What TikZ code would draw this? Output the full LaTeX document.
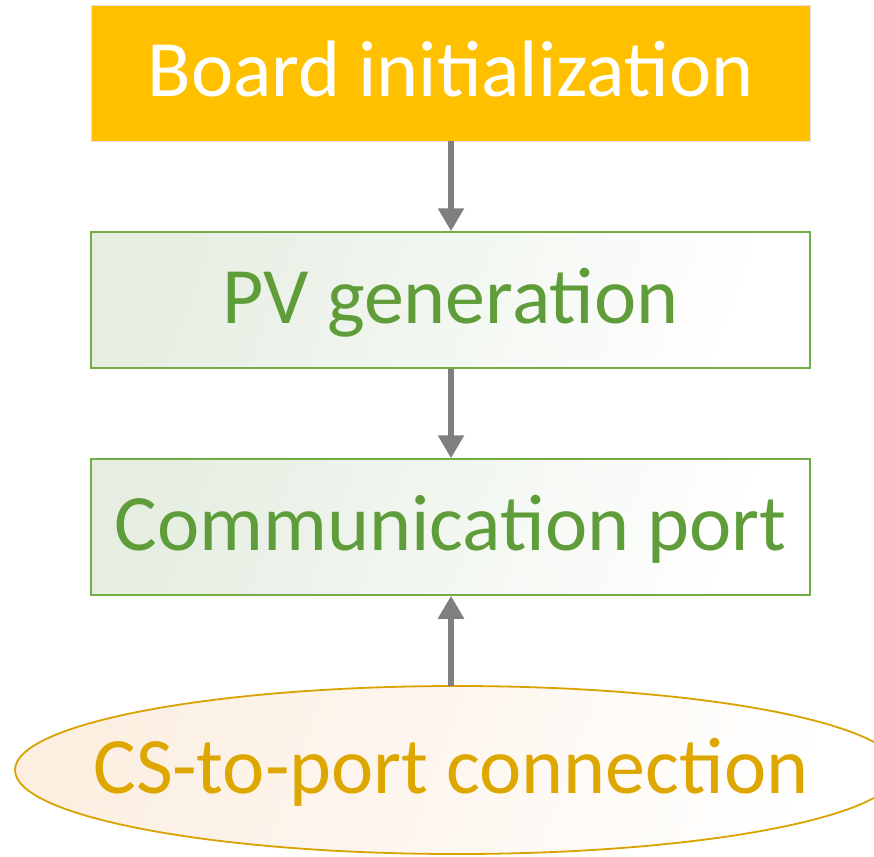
\documentclass[tikz,border=0pt]{standalone}
\usepackage{fontspec}
\setmainfont{Carlito}
\usetikzlibrary{arrows.meta,shapes.geometric}
\definecolor{initfill}{HTML}{FFC000}
\definecolor{greenline}{HTML}{70AD47}
\definecolor{greentext}{HTML}{5F9D3B}
\definecolor{greenfill}{HTML}{E6EEE2}
\definecolor{goldline}{HTML}{D9A200}
\definecolor{goldtext}{HTML}{DDA700}
\definecolor{peachfill}{HTML}{FCEFE2}
\definecolor{arrowgray}{HTML}{7F7F7F}
\tikzset{
  txt/.style={font=\fontsize{80}{90}\selectfont, text height=63pt, text depth=16pt, inner sep=0pt},
  initbox/.style={txt, rectangle, minimum width=719pt, minimum height=136pt, fill=initfill, draw=black!12, line width=0.8pt, text=white},
  stepbox/.style={txt, rectangle, minimum width=719pt, minimum height=136pt, draw=greenline, line width=1.5pt, shading=axis, left color=greenfill, right color=white, shading angle=70, text=greentext},
  connell/.style={txt, ellipse, minimum width=884pt, minimum height=168pt, draw=goldline, line width=1.8pt, shading=axis, left color=peachfill, right color=white, shading angle=70, text=goldtext},
  flow/.style={draw=arrowgray, line width=5.5pt, -{Triangle[width=25pt,length=23pt]}}
}
\begin{document}
\begin{tikzpicture}[x=1pt,y=-1pt]
\useasboundingbox (0,0) rectangle (874,856);
\clip (0,0) rectangle (874,856);
\node[initbox] (init) at (450.5,73) {Board initialization};
\node[stepbox] (pv) at (450.5,300) {PV generation};
\node[stepbox] (comm) at (450.5,527) {Communication port};
\node[connell] (cs) at (457,770) {\makebox[0pt]{\hspace*{-12pt}CS-to-port connection}};
\coordinate (csTop) at (451,686);
\draw[flow] (init.south -| 451,0) -- (pv.north -| 451,0);
\draw[flow] (pv.south -| 451,0) -- (comm.north -| 451,0);
\draw[flow] (csTop) -- (comm.south -| csTop);
\end{tikzpicture}
\end{document}
